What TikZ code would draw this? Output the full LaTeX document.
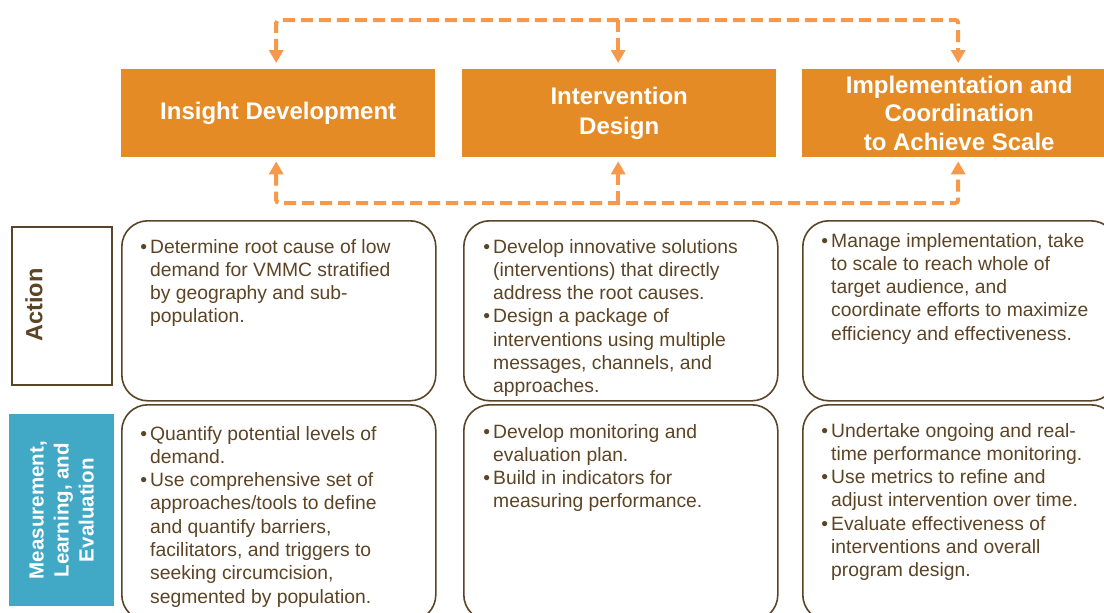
\documentclass[tikz,border=0pt]{standalone}
\usepackage{fontspec}
\setmainfont{Liberation Sans}
\usetikzlibrary{arrows.meta,calc}
\definecolor{hdr}{HTML}{E58B26}
\definecolor{flowc}{HTML}{F7984A}
\definecolor{txt}{HTML}{5C4424}
\definecolor{brd}{HTML}{5A4528}
\definecolor{teal}{HTML}{41A9C5}
\newcommand\bdyfnt{\fontsize{19.3}{23.3}\selectfont}
\newcommand\hdrfnt{\fontsize{24}{28.7}\selectfont\bfseries}
\newcommand\actfnt{\fontsize{23.5}{28}\selectfont\bfseries}
\newcommand\mlefnt{\fontsize{20.5}{25}\selectfont\bfseries}
\newcommand\bul{\llap{•\hspace{3pt}}}
\begin{document}
\begin{tikzpicture}[x=1pt,y=-1pt,
  hdrbox/.style={fill=hdr, draw=none, minimum width=314pt, minimum height=88pt, anchor=north west, text=white, font=\hdrfnt, align=center, inner sep=0pt},
  rbox/.style={draw=brd, line width=1.6pt, rounded corners=26pt, minimum width=314pt, anchor=north west, inner sep=0pt},
  flow/.style={draw=flowc, line width=4pt, dash pattern=on 12pt off 6pt, rounded corners=3pt},
  tip/.style={-{Triangle[width=14pt,length=13pt]}},
  twotip/.style={{Triangle[width=14pt,length=13pt]}-{Triangle[width=14pt,length=13pt]}},
  body/.style={anchor=base west, inner sep=0pt, text=txt, font=\bdyfnt}]
\useasboundingbox (0,0) rectangle (1104,613);
\clip (0,0) rectangle (1104,613);
\fill[white] (0,0) rectangle (1104,613);

% header boxes
\node[hdrbox] (h1) at (121,69) {Insight Development};
\node[hdrbox, font=\fontsize{24}{29.5}\selectfont\bfseries] (h2) at (462,69) {Intervention\\Design};
\node[hdrbox] (h3) at (802,69) {Implementation and\\Coordination\\to Achieve Scale};

% feedback connectors
\coordinate (ttop) at (0,20);
\coordinate (tbot) at (0,203);
\draw[flow, twotip] ($(h1.north)+(-2,-6)$) |- (ttop -| h2.north) -| ($(h3.north)+(-1,-6)$);
\draw[flow, tip] ($(ttop -| h2.north)+(-1,0)$) -- ($(h2.north)+(-1,-6)$);
\draw[flow, twotip] ($(h1.south)+(-2,4)$) |- (tbot -| h2.south) -| ($(h3.south)+(-1,4)$);
\draw[flow, tip] ($(tbot -| h2.south)+(-1,0)$) -- ($(h2.south)+(-1,4)$);

% row labels
\node[draw=brd, line width=1.6pt, minimum width=100pt, minimum height=158pt, anchor=north west, inner sep=0pt] (actbox) at (11,226) {};
\node[rotate=90, text=txt, font=\actfnt, inner sep=0pt] (act) at (34,305) {Action};
\node[fill=teal, minimum width=105pt, minimum height=192pt, anchor=north west, inner sep=0pt] (mlebox) at (9,414) {};
\node[rotate=90, text=white, font=\mlefnt, align=center, inner sep=0pt] (mle) at (mlebox.center) {Measurement,\\Learning, and\\Evaluation};

% content boxes
\node[rbox, minimum height=180pt] (a1) at (121,220) {};
\node[rbox, minimum height=180pt] (a2) at (463,220) {};
\node[rbox, minimum height=180pt] (a3) at (802,220) {};
\node[rbox, minimum height=216pt] (m1) at (121,404) {};
\node[rbox, minimum height=216pt] (m2) at (463,404) {};
\node[rbox, minimum height=216pt] (m3) at (802,404) {};

% texts
\node[body] (ta1) at (150,253) {\begin{tabular}[t]{@{}l@{}}\bul Determine root cause of low\\demand for VMMC stratified\\by geography and sub-\\population.\end{tabular}};
\node[body] (ta2) at (493,253) {\begin{tabular}[t]{@{}l@{}}\bul Develop innovative solutions\\(interventions) that directly\\address the root causes.\\\bul Design a package of\\interventions using multiple\\messages, channels, and\\approaches.\end{tabular}};
\node[body] (ta3) at (831,247) {\begin{tabular}[t]{@{}l@{}}\bul Manage implementation, take\\to scale to reach whole of\\target audience, and\\coordinate efforts to maximize\\efficiency and effectiveness.\end{tabular}};
\node[body] (tm1) at (150,440) {\begin{tabular}[t]{@{}l@{}}\bul Quantify potential levels of\\demand.\\\bul Use comprehensive set of\\approaches/tools to define\\and quantify barriers,\\facilitators, and triggers to\\seeking circumcision,\\segmented by population.\end{tabular}};
\node[body] (tm2) at (493,438) {\begin{tabular}[t]{@{}l@{}}\bul Develop monitoring and\\evaluation plan.\\\bul Build in indicators for\\measuring performance.\end{tabular}};
\node[body] (tm3) at (831,437) {\begin{tabular}[t]{@{}l@{}}\bul Undertake ongoing and real-\\time performance monitoring.\\\bul Use metrics to refine and\\adjust intervention over time.\\\bul Evaluate effectiveness of\\interventions and overall\\program design.\end{tabular}};
\end{tikzpicture}
\end{document}
